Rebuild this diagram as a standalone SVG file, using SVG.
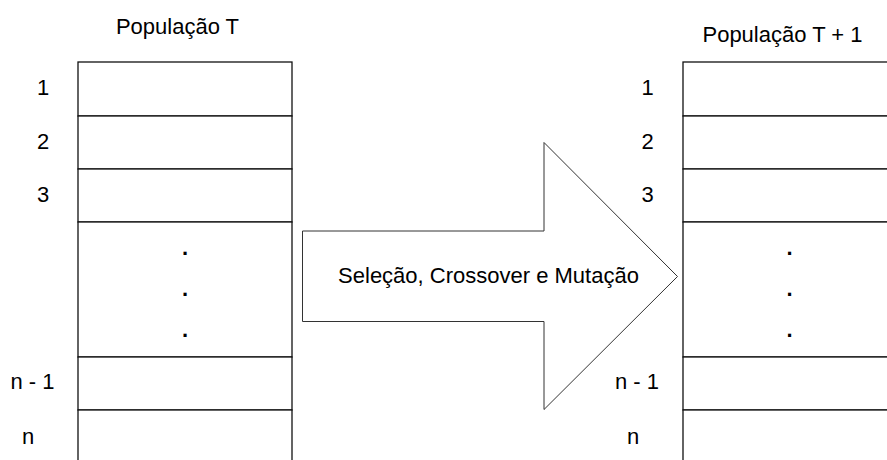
<svg xmlns="http://www.w3.org/2000/svg" width="887" height="460" viewBox="0 0 887 460">
<style>
.t{font-family:"Liberation Sans",Arial,sans-serif;font-size:22px;fill:#000}
.m{text-anchor:middle}
.dot{font-family:"Liberation Sans",Arial,sans-serif;font-size:22px;font-weight:bold;text-anchor:middle;fill:#000}
.cell{fill:#fff;stroke:#111;stroke-width:1.3}
.arrow{fill:#fff;stroke:#333;stroke-width:1}
</style>
<rect width="887" height="460" fill="#fff"/>
<g id="pop-t">
<text class="t m" x="177.5" y="34">População T</text>
<rect class="cell" x="78" y="62" width="214" height="54"/>
<rect class="cell" x="78" y="116" width="214" height="53"/>
<rect class="cell" x="78" y="169" width="214" height="53"/>
<rect class="cell" x="78" y="222" width="214" height="135"/>
<rect class="cell" x="78" y="357" width="214" height="53"/>
<rect class="cell" x="78" y="410" width="214" height="60"/>
<text class="dot" x="185" y="255">.</text>
<text class="dot" x="185" y="296">.</text>
<text class="dot" x="185" y="337">.</text>
<text class="t m" x="43" y="95">1</text>
<text class="t m" x="43" y="149">2</text>
<text class="t m" x="43" y="202">3</text>
<text class="t m" x="32.5" y="389">n - 1</text>
<text class="t m" x="28" y="444">n</text>
</g>
<g id="pop-t1">
<text class="t m" x="782.5" y="42">População T + 1</text>
<rect class="cell" x="683" y="62" width="220" height="54"/>
<rect class="cell" x="683" y="116" width="220" height="53"/>
<rect class="cell" x="683" y="169" width="220" height="53"/>
<rect class="cell" x="683" y="222" width="220" height="135"/>
<rect class="cell" x="683" y="357" width="220" height="53"/>
<rect class="cell" x="683" y="410" width="220" height="60"/>
<text class="dot" x="789.5" y="255">.</text>
<text class="dot" x="789.5" y="296">.</text>
<text class="dot" x="789.5" y="337">.</text>
<text class="t m" x="647.5" y="95">1</text>
<text class="t m" x="647.5" y="149">2</text>
<text class="t m" x="647.5" y="202">3</text>
<text class="t m" x="637" y="389">n - 1</text>
<text class="t m" x="633" y="444">n</text>
</g>
<g id="connectors">
<g id="transition">
<polygon class="arrow" points="302.5,231 544,231 544,142.5 677.5,276.5 544,409.5 544,321.5 302.5,321.5"/>
<text class="t m" x="488.5" y="283">Seleção, Crossover e Mutação</text>
</g>
</g>
</svg>
